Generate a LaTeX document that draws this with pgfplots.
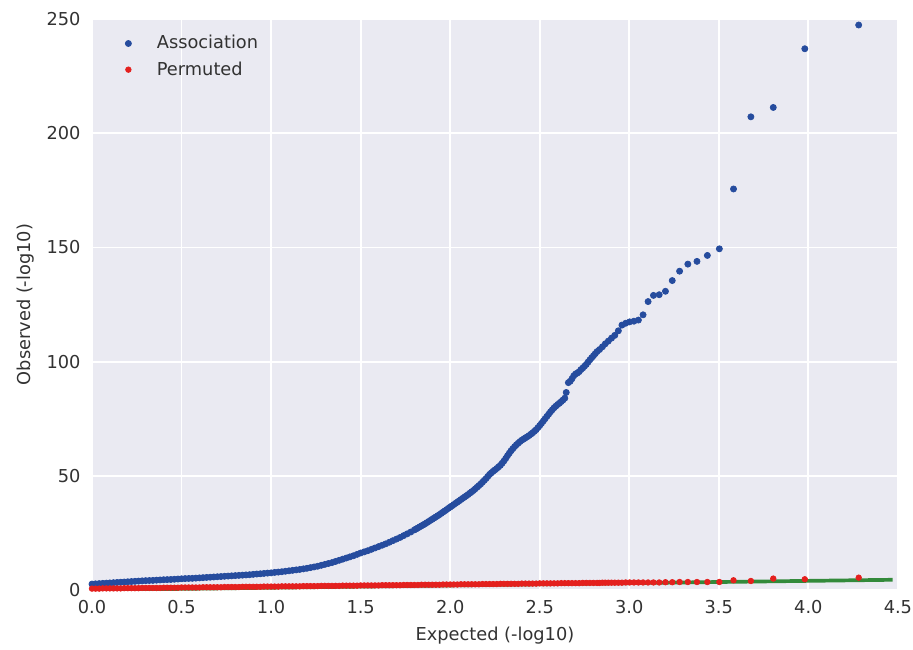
\documentclass[border=0pt]{standalone}
\usepackage{pgfplots}
\pgfplotsset{compat=1.18}
\usepackage{fontspec}
\setmainfont{DejaVu Sans}
\definecolor{bg}{RGB}{234,234,242}
\definecolor{sblue}{RGB}{38,76,158}
\definecolor{sred}{RGB}{228,32,30}
\definecolor{sgreen}{RGB}{32,128,40}
\definecolor{labelgray}{RGB}{50,50,50}
\begin{document}
\fontsize{9.6}{11.5}\selectfont
\begin{tikzpicture}
\begin{axis}[
  at={(0,0)}, anchor=south west,
  scale only axis, width=435.2pt, height=308.3pt,
  xmin=0, xmax=4.5, ymin=0, ymax=250,
  axis background/.style={fill=bg},
  axis line style={draw=none},
  grid=major, major grid style={white, line width=1pt},
  tick style={draw=none},
  xtick={0,0.5,1,1.5,2,2.5,3,3.5,4,4.5},
  ytick={0,50,100,150,200,250},
  xticklabel style={yshift=-2.2pt},
  yticklabel style={xshift=-2.8pt},
  x tick label style={/pgf/number format/.cd, fixed, fixed zerofill, precision=1, /tikz/.cd},
  /pgf/number format/assume math mode=true,
  ticklabel style={text=labelgray, font=\fontsize{9.6}{11.5}\selectfont},
  xlabel={Expected (-log10)}, ylabel={Observed (-log10)},
  label style={text=labelgray, font=\fontsize{9.6}{11.5}\selectfont},
  xlabel style={at={(axis description cs:0.5,-0.079)}, anchor=center},
  ylabel style={at={(axis description cs:-0.083,0.5)}, anchor=center},
  legend style={draw=none, fill=none, at={(axis description cs:0.034,0.985)}, anchor=north west,
    font=\fontsize{9.6}{11.5}\selectfont, text=labelgray, row sep=1.4pt},
  legend image code/.code={\draw[#1] plot coordinates {(0pt,0pt)}; \path[draw=none,fill=none] (0pt,0pt) rectangle (13.4pt,0.1pt);},
  legend cell align=left,
]
\addplot[only marks, mark=*, mark size=1.65pt, color=sblue] coordinates {
(0.00,2.6)(0.02,2.7)(0.04,2.8)(0.06,2.9)(0.08,3.0)(0.10,3.1)(0.12,3.2)(0.14,3.3)(0.16,3.4)(0.18,3.5)
(0.20,3.6)(0.22,3.7)(0.24,3.8)(0.26,3.9)(0.28,4.0)(0.30,4.1)(0.32,4.15)(0.34,4.2)(0.36,4.3)(0.38,4.4)
(0.40,4.5)(0.42,4.55)(0.44,4.6)(0.46,4.7)(0.48,4.8)(0.50,4.9)(0.52,5.0)(0.54,5.05)(0.56,5.1)(0.58,5.2)
(0.60,5.3)(0.62,5.4)(0.64,5.5)(0.66,5.6)(0.68,5.7)(0.70,5.8)(0.72,5.9)(0.74,6.0)(0.76,6.1)(0.78,6.2)
(0.80,6.3)(0.82,6.4)(0.84,6.5)(0.86,6.6)(0.88,6.7)(0.90,6.85)(0.92,7.0)(0.94,7.1)(0.96,7.25)(0.98,7.4)
(1.00,7.5)(1.02,7.7)(1.04,7.85)(1.06,8.0)(1.08,8.2)(1.10,8.4)(1.12,8.6)(1.14,8.8)(1.16,9.0)(1.18,9.25)
(1.20,9.5)(1.22,9.8)(1.24,10.1)(1.26,10.4)(1.28,10.8)(1.30,11.2)(1.32,11.6)(1.34,12.0)(1.36,12.5)(1.38,13.0)
(1.40,13.5)(1.42,14.0)(1.44,14.5)(1.46,15.0)(1.48,15.6)(1.50,16.2)(1.52,16.7)(1.54,17.2)(1.56,17.8)(1.58,18.4)
(1.60,19.0)(1.62,19.6)(1.64,20.2)(1.66,20.9)(1.68,21.6)(1.70,22.3)(1.72,23.0)(1.74,23.8)(1.76,24.6)(1.78,25.4)
(1.80,26.3)(1.81,26.75)(1.82,27.2)(1.83,27.65)(1.84,28.1)(1.85,28.55)(1.86,29.0)(1.87,29.5)(1.88,30.0)(1.89,30.5)
(1.90,31.0)(1.91,31.5)(1.92,32.0)(1.93,32.5)(1.94,33.0)(1.95,33.55)(1.96,34.1)(1.97,34.65)(1.98,35.2)(1.99,35.75)
(2.00,36.3)(2.01,36.85)(2.02,37.4)(2.03,37.95)(2.04,38.5)(2.05,39.05)(2.06,39.6)(2.07,40.15)(2.08,40.7)(2.09,41.25)
(2.10,41.8)(2.11,42.4)(2.12,43.0)(2.13,43.6)(2.14,44.3)(2.15,45.0)(2.16,45.7)(2.17,46.4)(2.18,47.2)(2.19,48.0)
(2.20,48.8)(2.21,49.7)(2.22,50.6)(2.23,51.3)(2.24,52.0)(2.25,52.6)(2.26,53.2)(2.27,53.9)(2.28,54.6)(2.29,55.5)
(2.30,56.5)(2.31,57.6)(2.32,58.8)(2.33,59.9)(2.34,61.0)(2.35,61.9)(2.36,62.8)(2.37,63.6)(2.38,64.3)(2.39,65.0)
(2.40,65.6)(2.41,66.1)(2.42,66.6)(2.43,67.1)(2.44,67.6)(2.45,68.2)(2.46,68.8)(2.47,69.5)(2.48,70.2)(2.49,71.1)
(2.50,72.0)(2.51,73.0)(2.52,74.0)(2.53,75.0)(2.54,76.0)(2.55,77.0)(2.56,78.0)(2.57,78.9)(2.58,79.8)(2.59,80.5)
(2.60,81.2)(2.61,81.8)(2.62,82.5)(2.63,83.2)(2.64,84.0)(2.648,86.5)(2.66,90.8)(2.67,91.4)(2.68,92.5)(2.69,93.8)
(2.70,94.6)(2.71,95.0)(2.72,95.6)(2.73,96.5)(2.74,97.2)(2.75,98.0)(2.76,98.8)(2.77,99.8)(2.78,100.8)(2.79,101.7)
(2.80,102.6)(2.81,103.5)(2.82,104.4)(2.834,105.3)(2.850,106.5)(2.866,107.8)(2.883,109.0)(2.901,110.3)(2.919,111.5)
(2.939,113.5)(2.959,116.0)(2.980,116.8)(3.002,117.4)(3.026,117.7)(3.051,118.2)(3.077,120.5)(3.105,126.3)
(3.135,129.0)(3.167,129.3)(3.202,130.8)(3.240,135.5)(3.281,139.6)(3.327,142.7)(3.378,143.9)(3.436,146.5)
(3.503,149.4)(3.582,175.6)(3.679,207.2)(3.804,211.3)(3.980,237.0)(4.281,247.4)
};
\addlegendentry{Association}
\addplot[only marks, mark=*, mark size=1.5pt, color=sred] coordinates {
(0.00,0.6)(0.02,0.6)(0.04,0.6)(0.06,0.7)(0.08,0.7)(0.10,0.7)(0.12,0.7)(0.14,0.7)(0.16,0.7)(0.18,0.8)
(0.20,0.8)(0.22,0.8)(0.24,0.8)(0.26,0.8)(0.28,0.9)(0.30,0.9)(0.32,0.9)(0.34,0.9)(0.36,0.9)(0.38,0.9)
(0.40,1.0)(0.42,1.0)(0.44,1.0)(0.46,1.0)(0.48,1.0)(0.50,1.1)(0.52,1.1)(0.54,1.1)(0.56,1.1)(0.58,1.1)
(0.60,1.1)(0.62,1.2)(0.64,1.2)(0.66,1.2)(0.68,1.2)(0.70,1.2)(0.72,1.2)(0.74,1.3)(0.76,1.3)(0.78,1.3)
(0.80,1.3)(0.82,1.3)(0.84,1.4)(0.86,1.4)(0.88,1.4)(0.90,1.4)(0.92,1.4)(0.94,1.4)(0.96,1.5)(0.98,1.5)
(1.00,1.5)(1.02,1.5)(1.04,1.5)(1.06,1.6)(1.08,1.6)(1.10,1.6)(1.12,1.6)(1.14,1.6)(1.16,1.6)(1.18,1.7)
(1.20,1.7)(1.22,1.7)(1.24,1.7)(1.26,1.7)(1.28,1.8)(1.30,1.8)(1.32,1.8)(1.34,1.8)(1.36,1.8)(1.38,1.8)
(1.40,1.9)(1.42,1.9)(1.44,1.9)(1.46,1.9)(1.48,1.9)(1.50,2.0)(1.52,2.0)(1.54,2.0)(1.56,2.0)(1.58,2.0)
(1.60,2.0)(1.62,2.1)(1.64,2.1)(1.66,2.1)(1.68,2.1)(1.70,2.1)(1.72,2.1)(1.74,2.2)(1.76,2.2)(1.78,2.2)
(1.80,2.2)(1.82,2.2)(1.84,2.3)(1.86,2.3)(1.88,2.3)(1.90,2.3)(1.92,2.3)(1.94,2.3)(1.96,2.4)(1.98,2.4)
(2.00,2.4)(2.02,2.4)(2.04,2.4)(2.06,2.5)(2.08,2.5)(2.10,2.5)(2.12,2.5)(2.14,2.5)(2.16,2.5)(2.18,2.6)
(2.20,2.6)(2.22,2.6)(2.24,2.6)(2.26,2.6)(2.28,2.7)(2.30,2.7)(2.32,2.7)(2.34,2.7)(2.36,2.7)(2.38,2.7)
(2.40,2.8)(2.42,2.8)(2.44,2.8)(2.46,2.8)(2.48,2.8)(2.50,2.9)(2.52,2.9)(2.54,2.9)(2.56,2.9)(2.58,2.9)
(2.60,2.9)(2.62,3.0)(2.64,3.0)(2.66,3.0)(2.68,3.0)(2.70,3.0)(2.72,3.0)(2.74,3.1)(2.76,3.1)(2.78,3.1)
(2.80,3.1)(2.82,3.1)(2.834,3.1)(2.850,3.2)(2.866,3.2)(2.883,3.2)(2.901,3.2)(2.919,3.2)(2.939,3.2)(2.959,3.2)
(2.980,3.3)(3.002,3.3)(3.026,3.3)(3.051,3.3)(3.077,3.3)(3.105,3.3)(3.135,3.3)(3.167,3.3)(3.202,3.4)
(3.240,3.4)(3.281,3.5)(3.327,3.5)(3.378,3.5)(3.436,3.5)(3.503,3.5)(3.582,4.25)(3.679,3.95)(3.804,5.0)
(3.980,4.7)(4.281,5.4)
};
\addlegendentry{Permuted}
\addplot[forget plot, sgreen, line width=2pt, opacity=0.9] coordinates {(0,0) (4.47,4.47)};
\end{axis}
\pgfresetboundingbox
\path[use as bounding box] (-49.68pt,-32.4pt) rectangle (443.34pt,318.6pt);
\end{tikzpicture}
\end{document}
